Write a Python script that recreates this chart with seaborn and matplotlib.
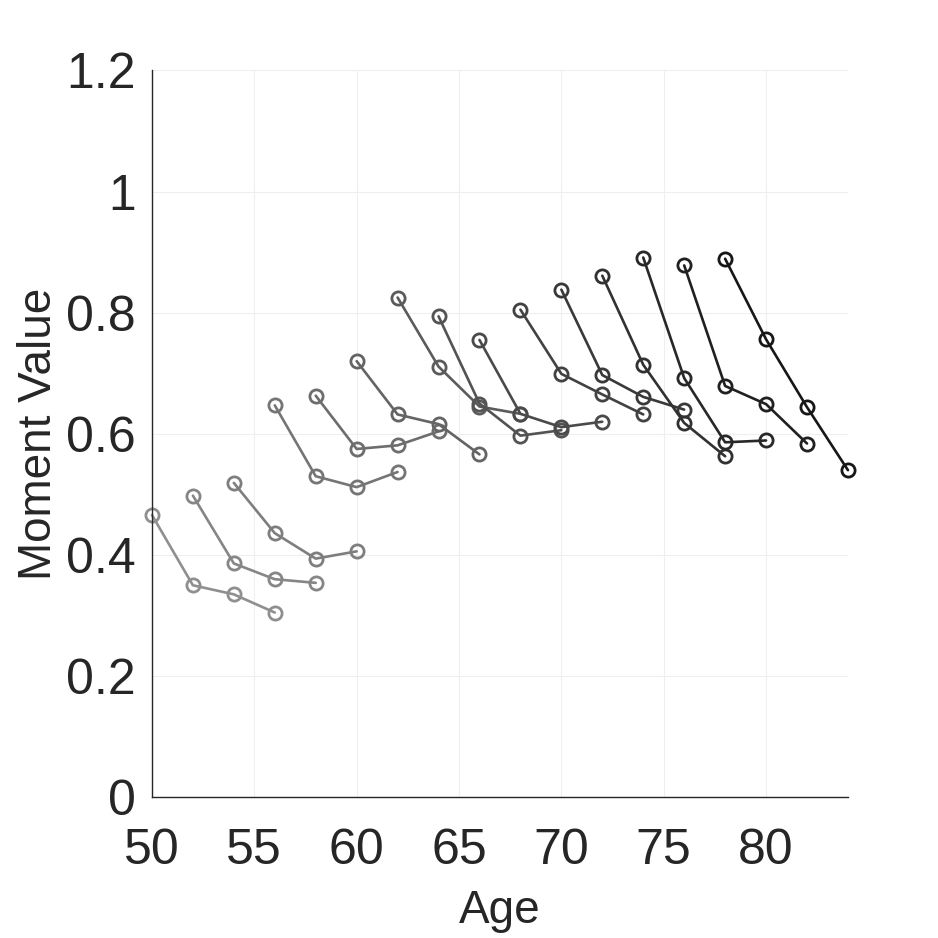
import numpy as np
import pandas as pd
import matplotlib
matplotlib.use("Agg")
import matplotlib.pyplot as plt
import seaborn as sns

# cohort start ages (each cohort observed at 4 ages, 2 years apart)
start_ages = [50, 52, 54, 56, 58, 60, 62, 64, 66, 68, 70, 72, 74, 76, 78]
age_offsets = [0, 2, 4, 6]

c50 = [0.466, 0.350, 0.335, 0.305]
c52 = [0.498, 0.386, 0.360, 0.354]
c54 = [0.519, 0.436, 0.394, 0.406]
c56 = [0.647, 0.530, 0.512, 0.537]
c58 = [0.663, 0.575, 0.581, 0.604]
c60 = [0.720, 0.632, 0.616, 0.566]
c62 = [0.825, 0.711, 0.645, 0.633]
c64 = [0.794, 0.650, 0.597, 0.606]
c66 = [0.755, 0.633, 0.611, 0.620]
c68 = [0.805, 0.699, 0.665, 0.632]
c70 = [0.838, 0.697, 0.661, 0.640]
c72 = [0.861, 0.714, 0.618, 0.563]
c74 = [0.891, 0.692, 0.586, 0.589]
c76 = [0.878, 0.679, 0.649, 0.584]
c78 = [0.889, 0.756, 0.644, 0.540]
cohort_values = [c50, c52, c54, c56, c58, c60, c62, c64, c66, c68, c70, c72, c74, c76, c78]

x_ticks = [50, 55, 60, 65, 70, 75, 80]
y_ticks = [0, 0.2, 0.4, 0.6, 0.8, 1.0, 1.2]
y_tick_labels = ["0", "0.2", "0.4", "0.6", "0.8", "1", "1.2"]

rows = []
for s, vals in zip(start_ages, cohort_values):
    for off, v in zip(age_offsets, vals):
        rows.append({"cohort": s, "Age": s + off, "Moment Value": v})
df = pd.DataFrame(rows)

sns.set_style("white")
plt.rcParams["font.family"] = ["Liberation Sans", "DejaVu Sans"]

n = len(start_ages)
grays = np.linspace(0.56, 0.09, n)
palette = {s: (g, g, g) for s, g in zip(start_ages, grays)}

fig = plt.figure(figsize=(9.38, 9.38), dpi=100)
ax = fig.add_axes([0.162, 0.150, 0.742, 0.775])

sns.lineplot(data=df, x="Age", y="Moment Value", hue="cohort", palette=palette,
             units="cohort", estimator=None, sort=False, legend=False, ax=ax,
             marker="o", markersize=9.5, markerfacecolor="none", markeredgewidth=2.0,
             linewidth=1.9)
for line in ax.get_lines():
    line.set_markeredgecolor(line.get_color())
    line.set_clip_on(False)

ax.set_xlim(50, 84)
ax.set_ylim(0, 1.2)
ax.set_xticks(x_ticks)
ax.set_yticks(y_ticks)
ax.set_yticklabels(y_tick_labels)
ax.grid(True, color="#efefef", linewidth=0.8)
ax.set_axisbelow(True)

for side in ["top", "right"]:
    ax.spines[side].set_visible(False)
for side in ["left", "bottom"]:
    ax.spines[side].set_color("#262626")
    ax.spines[side].set_linewidth(1.0)

ax.tick_params(axis="both", direction="in", length=7, width=1.0, color="#262626",
               labelsize=36, labelcolor="#262626")
ax.tick_params(axis="x", pad=22)
ax.tick_params(axis="y", pad=11.5)
ax.set_xlabel("Age", fontsize=33, color="#262626", labelpad=11)
ax.set_ylabel("Moment Value", fontsize=33, color="#262626", labelpad=3.5)

fig.savefig("out.png", dpi=100, facecolor="white")
